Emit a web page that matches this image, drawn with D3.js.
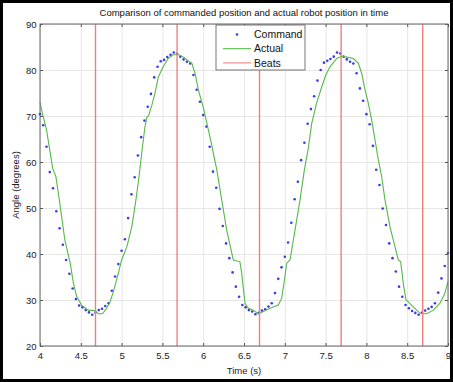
<!DOCTYPE html>
<html>
<head>
<meta charset="utf-8">
<script src="https://cdn.jsdelivr.net/npm/d3@7"></script>
<style>
    body { margin: 0; background: #fff; }
    text { font-family: "Liberation Sans", Arial, Helvetica, sans-serif; }
</style>
</head>
<body>
<div id="chart"></div>
<script>
// command samples (blue dots)
var commandTime = [
    4.00, 4.04, 4.08, 4.12, 4.16, 4.20, 4.24, 4.28, 4.32, 4.36,
    4.40, 4.44, 4.48, 4.52, 4.56, 4.60, 4.64, 4.68, 4.72, 4.76,
    4.80, 4.84, 4.88, 4.92, 4.96, 5.00, 5.04, 5.08, 5.12, 5.16,
    5.20, 5.24, 5.28, 5.32, 5.36, 5.40, 5.44, 5.48, 5.52, 5.56,
    5.60, 5.64, 5.68, 5.72, 5.76, 5.80, 5.84, 5.88, 5.92, 5.96,
    6.00, 6.04, 6.08, 6.12, 6.16, 6.20, 6.24, 6.28, 6.32, 6.36,
    6.40, 6.44, 6.48, 6.52, 6.56, 6.60, 6.64, 6.68, 6.72, 6.76,
    6.80, 6.84, 6.88, 6.92, 6.96, 7.00, 7.04, 7.08, 7.12, 7.16,
    7.20, 7.24, 7.28, 7.32, 7.36, 7.40, 7.44, 7.48, 7.52, 7.56,
    7.60, 7.64, 7.68, 7.72, 7.76, 7.80, 7.84, 7.88, 7.92, 7.96,
    8.00, 8.04, 8.08, 8.12, 8.16, 8.20, 8.24, 8.28, 8.32, 8.36,
    8.40, 8.44, 8.48, 8.52, 8.56, 8.60, 8.64, 8.68, 8.72, 8.76,
    8.80, 8.84, 8.88, 8.92, 8.96, 9.00
];
var commandAngle = [
    70.4, 68.0, 63.3, 57.8, 54.3, 49.3, 45.6, 42.0, 38.7, 35.7,
    32.5, 30.2, 28.8, 28.4, 27.8, 27.3, 26.8, 27.3, 27.8, 28.1,
    28.7, 29.3, 32.0, 35.1, 37.8, 40.7, 43.2, 47.8, 53.0, 56.7,
    61.4, 65.4, 69.0, 72.0, 74.8, 78.4, 80.7, 81.9, 82.2, 82.8,
    83.3, 83.8, 83.5, 82.9, 82.3, 81.8, 81.4, 78.9, 75.7, 73.1,
    70.2, 67.7, 63.3, 57.9, 54.4, 49.8, 46.1, 42.3, 39.1, 36.0,
    32.9, 30.7, 28.9, 28.4, 27.8, 27.5, 26.9, 27.2, 27.7, 28.0,
    28.6, 29.3, 31.5, 34.6, 37.1, 39.4, 42.5, 46.8, 51.9, 55.7,
    60.4, 64.2, 68.3, 71.5, 74.3, 77.7, 80.0, 81.6, 82.0, 82.4,
    82.9, 83.8, 83.6, 82.9, 82.3, 81.8, 81.4, 79.3, 76.0, 73.3,
    70.4, 68.2, 63.5, 58.3, 55.0, 49.9, 46.3, 42.3, 39.1, 36.2,
    32.9, 30.7, 28.9, 28.2, 27.6, 27.2, 26.8, 27.2, 27.7, 28.1,
    28.5, 29.3, 31.6, 34.7, 37.4, 40.2
];

// measured robot position (green line)
var actualTime = [
    4.00, 4.03, 4.08, 4.12, 4.155, 4.195, 4.225, 4.265, 4.305, 4.37,
    4.41, 4.45, 4.51, 4.59, 4.675, 4.715, 4.765, 4.81, 4.86, 4.905,
    4.96, 5.00, 5.065, 5.125, 5.175, 5.215, 5.25, 5.285, 5.31, 5.33,
    5.37, 5.41, 5.45, 5.51, 5.57, 5.63, 5.70, 5.76, 5.80, 5.86,
    5.90, 5.94, 6.00, 6.045, 6.10, 6.14, 6.165, 6.227, 6.288, 6.369,
    6.45, 6.472, 6.512, 6.553, 6.614, 6.675, 6.737, 6.819, 6.92, 6.962,
    7.002, 7.023, 7.064, 7.125, 7.186, 7.24, 7.288, 7.33, 7.39, 7.45,
    7.50, 7.554, 7.636, 7.697, 7.758, 7.84, 7.90, 7.942, 7.983, 8.023,
    8.065, 8.105, 8.146, 8.187, 8.228, 8.289, 8.35, 8.391, 8.42, 8.452,
    8.485, 8.513, 8.575, 8.657, 8.739, 8.82, 8.902, 8.963, 9.00
];
var actualAngle = [
    73.0, 70.5, 67.0, 62.6, 58.6, 56.8, 53.2, 48.1, 43.0, 38.0,
    33.6, 30.7, 28.9, 27.8, 27.7, 27.0, 27.0, 28.0, 29.6, 32.2,
    35.8, 38.7, 41.6, 45.9, 51.7, 57.0, 62.5, 67.5, 69.8, 70.0,
    72.3, 75.0, 78.5, 80.7, 82.5, 83.3, 83.3, 82.8, 82.2, 81.5,
    79.3, 75.7, 72.0, 68.4, 64.1, 60.5, 58.5, 51.7, 45.2, 38.7,
    38.3, 35.8, 29.3, 28.2, 27.8, 27.0, 27.5, 28.2, 28.9, 30.4,
    35.1, 38.0, 38.7, 45.2, 51.7, 58.3, 63.0, 68.4, 72.8, 76.2,
    78.8, 80.7, 82.5, 83.0, 82.8, 82.5, 81.5, 79.3, 75.7, 72.8,
    69.1, 64.8, 60.5, 56.8, 51.7, 45.9, 41.6, 38.7, 38.3, 33.6,
    30.0, 29.6, 28.5, 27.1, 27.0, 27.8, 29.3, 31.5, 34.0
];

var beatTime = [4.68, 5.68, 6.69, 7.69, 8.69];

var xTicks = [4, 4.5, 5, 5.5, 6, 6.5, 7, 7.5, 8, 8.5, 9];
var yTicks = [20, 30, 40, 50, 60, 70, 80, 90];
var legendLabels = ["Command", "Actual", "Beats"];

var width = 453,
    height = 382,
    margin = { left: 40, right: 5, top: 24, bottom: 36 };
var w = width - margin.left - margin.right,
    h = height - margin.top - margin.bottom;

function translate(dx, dy){
    return "translate(" + dx + "," + dy + ")";
}

var xScale = d3.scaleLinear().domain([4, 9]).range([0, w]);
var yScale = d3.scaleLinear().domain([20, 90]).range([h, 0]);

var commandData = commandTime.map(function(t, i){ return [t, commandAngle[i]]; });
var actualData = actualTime.map(function(t, i){ return [t, actualAngle[i]]; });

var svg = d3.select("#chart").append("svg")
    .attr("width", width)
    .attr("height", height);

svg.append("rect")
    .attr("x", 0).attr("y", 0)
    .attr("width", width).attr("height", height)
    .attr("fill", "#fff");

// outer black frame of the screenshot
svg.append("rect")
    .attr("x", 1.5).attr("y", 1.5)
    .attr("width", width - 3).attr("height", height - 3)
    .attr("fill", "none")
    .attr("stroke", "#000")
    .attr("stroke-width", 3);

svg.append("text")
    .attr("x", margin.left + w / 2)
    .attr("y", 16)
    .attr("text-anchor", "middle")
    .attr("font-size", "9.5px")
    .attr("fill", "#111")
    .text("Comparison of commanded position and actual robot position in time");

var g = svg.append("g").attr("transform", translate(margin.left, margin.top));

// grid
g.append("g")
    .attr("class", "x-grid")
    .attr("transform", translate(0, h))
    .call(d3.axisBottom(xScale).tickValues(xTicks).tickSize(-h).tickFormat(""))
    .call(function(s){
        s.select(".domain").remove();
        s.selectAll("line").attr("stroke", "#e6e6e6");
    });
g.append("g")
    .attr("class", "y-grid")
    .call(d3.axisLeft(yScale).tickValues(yTicks).tickSize(-w).tickFormat(""))
    .call(function(s){
        s.select(".domain").remove();
        s.selectAll("line").attr("stroke", "#e6e6e6");
    });

var plot = g.append("g");

plot.selectAll(".point")
    .data(commandData)
    .enter()
    .append("circle")
    .attr("class", "point")
    .attr("cx", function(d){ return xScale(d[0]); })
    .attr("cy", function(d){ return yScale(d[1]); })
    .attr("r", 1.3)
    .attr("fill", "#3b3be6");

plot.append("path")
    .datum(actualData)
    .attr("fill", "none")
    .attr("stroke", "#56b84a")
    .attr("stroke-width", 1.1)
    .attr("d", d3.line()
        .x(function(d){ return xScale(d[0]); })
        .y(function(d){ return yScale(d[1]); }));

plot.selectAll(".beat")
    .data(beatTime)
    .enter()
    .append("line")
    .attr("class", "beat")
    .attr("x1", function(d){ return xScale(d); })
    .attr("x2", function(d){ return xScale(d); })
    .attr("y1", 0)
    .attr("y2", h)
    .attr("stroke", "#f08080")
    .attr("stroke-width", 1.4);

// axes, ticks point inward
function styleAxis(s){
    s.select(".domain").remove();
    s.selectAll("line").attr("stroke", "#555");
    s.selectAll("text").attr("font-size", "9.5px").attr("fill", "#222")
        .attr("font-family", "'Liberation Sans', Arial, sans-serif");
}

g.append("g")
    .attr("class", "x-axis")
    .attr("transform", translate(0, h))
    .call(d3.axisBottom(xScale).tickValues(xTicks).tickSize(-3).tickPadding(6)
        .tickFormat(d3.format("")))
    .call(styleAxis);
g.append("g")
    .attr("class", "x-axis-top")
    .call(d3.axisTop(xScale).tickValues(xTicks).tickSize(-3).tickFormat(""))
    .call(styleAxis);
g.append("g")
    .attr("class", "y-axis")
    .call(d3.axisLeft(yScale).tickValues(yTicks).tickSize(-3).tickPadding(3.5))
    .call(styleAxis);
g.append("g")
    .attr("class", "y-axis-right")
    .attr("transform", translate(w, 0))
    .call(d3.axisRight(yScale).tickValues(yTicks).tickSize(-3).tickFormat(""))
    .call(styleAxis);

g.append("rect")
    .attr("width", w).attr("height", h)
    .attr("fill", "none")
    .attr("stroke", "#666")
    .attr("stroke-width", 1);

g.append("text")
    .attr("x", w / 2)
    .attr("y", h + 28)
    .attr("text-anchor", "middle")
    .attr("font-size", "9.5px")
    .attr("fill", "#222")
    .text("Time (s)");

g.append("text")
    .attr("transform", translate(-21, h / 2) + " rotate(-90)")
    .attr("text-anchor", "middle")
    .attr("font-size", "9.5px")
    .attr("fill", "#222")
    .text("Angle (degrees)");

// legend
var legend = svg.append("g").attr("transform", translate(216, 25));
legend.append("rect")
    .attr("width", 89).attr("height", 45)
    .attr("fill", "#fff")
    .attr("stroke", "#555")
    .attr("stroke-width", 0.8);

var rows = legend.selectAll(".entry")
    .data(legendLabels)
    .enter()
    .append("g")
    .attr("class", "entry")
    .attr("transform", function(d, i){ return translate(0, 9.5 + i * 14.2); });

rows.filter(function(d, i){ return i === 0; })
    .append("circle")
    .attr("cx", 21).attr("cy", 0).attr("r", 1.3)
    .attr("fill", "#3b3be6");
rows.filter(function(d, i){ return i > 0; })
    .append("line")
    .attr("x1", 7).attr("x2", 35)
    .attr("y1", 0).attr("y2", 0)
    .attr("stroke", function(d){ return d === "Actual" ? "#56b84a" : "#f08080"; })
    .attr("stroke-width", 1.1);
rows.append("text")
    .attr("x", 38)
    .attr("y", 0)
    .attr("dy", "0.35em")
    .attr("font-size", "10.5px")
    .attr("fill", "#111")
    .text(function(d){ return d; });
</script>
</body>
</html>
